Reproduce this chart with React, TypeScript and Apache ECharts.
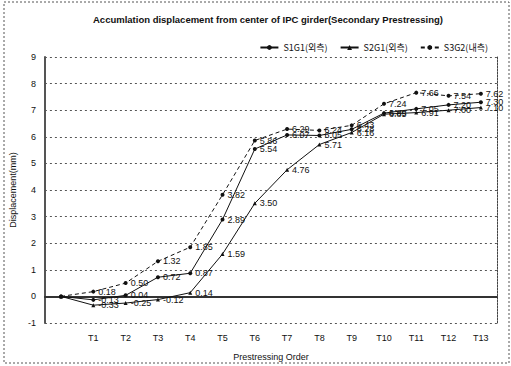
import React, { useEffect, useRef } from "react";
import * as echarts from "echarts";

const categories = ["", "T1", "T2", "T3", "T4", "T5", "T6", "T7", "T8", "T9", "T10", "T11", "T12", "T13"];
const seriesNames = ["S1G1(외측)", "S2G1(외측)", "S3G2(내측)"];
const s1g1 = [0, -0.13, 0.04, 0.72, 0.87, 2.89, 5.54, 6.07, 6.05, 6.28, 6.89, 7.05, 7.2, 7.3];
const s2g1 = [0, -0.33, -0.25, -0.12, 0.14, 1.59, 3.5, 4.76, 5.71, 6.16, 6.85, 6.91, 7.0, 7.1];
const s3g2 = [0, 0.18, 0.5, 1.32, 1.85, 3.82, 5.86, 6.29, 6.24, 6.43, 7.24, 7.66, 7.54, 7.62];
const yTicks = { min: -1, max: 9, interval: 1 };

const FONT = "Liberation Sans, Arial, sans-serif";

function mkSeries(name: string, values: number[], dashed: boolean, symbol: string) {
  return {
    name,
    type: "line",
    data: values.map((v, i) => ({
      value: v,
      label: { show: i > 0 },
    })),
    symbol,
    symbolSize: 4,
    itemStyle: { color: "#111" },
    lineStyle: { color: "#111", width: 1, type: dashed ? [4, 3] : "solid" },
    label: {
      show: true,
      position: "right",
      distance: 3,
      fontSize: 9,
      fontFamily: FONT,
      color: "#111",
      formatter: (p: any) => Number(p.value).toFixed(2),
    },
  };
}

export default function App() {
  const ref = useRef<HTMLDivElement>(null);
  useEffect(() => {
    const chart = echarts.init(ref.current!, null, { renderer: "svg" });
    chart.setOption({
      animation: false,
      backgroundColor: "#fff",
      title: {
        text: "Accumlation displacement from center of IPC girder(Secondary Prestressing)",
        left: 263,
        textAlign: "center",
        top: 9,
        textStyle: { fontSize: 9.5, fontWeight: "bold", fontFamily: FONT, color: "#111" },
      },
      legend: {
        data: seriesNames,
        top: 38,
        right: 18,
        itemWidth: 18,
        itemHeight: 6,
        itemGap: 12,
        textStyle: { fontSize: 9, fontFamily: "Noto Sans CJK KR, sans-serif", color: "#111" },
      },
      grid: { left: 37, top: 57, width: 460, height: 266, containLabel: false },
      xAxis: {
        type: "category",
        data: categories,
        boundaryGap: true,
        name: "Prestressing Order",
        nameLocation: "middle",
        nameGap: 29,
        nameTextStyle: { fontSize: 9, fontFamily: FONT, color: "#111" },
        axisLine: { lineStyle: { color: "#333", width: 2 } },
        axisTick: { show: false },
        axisLabel: { fontSize: 9, fontFamily: FONT, color: "#111", margin: 10, interval: 0 },
        splitLine: { show: false },
      },
      yAxis: [
        {
          type: "value",
          min: yTicks.min,
          max: yTicks.max,
          interval: yTicks.interval,
          name: "Displacement(mm)",
          nameLocation: "middle",
          nameGap: 20,
          nameRotate: 90,
          nameTextStyle: { fontSize: 9, fontFamily: FONT, color: "#111" },
          axisLine: { show: true, lineStyle: { color: "#555", width: 2 } },
          axisTick: { show: false },
          axisLabel: { fontSize: 9, fontFamily: FONT, color: "#111", margin: 9 },
          splitLine: { show: true, lineStyle: { color: "#555", type: [2, 3], width: 1 } },
        },
        {
          type: "value",
          position: "right",
          min: yTicks.min,
          max: yTicks.max,
          interval: yTicks.interval,
          axisLine: { show: true, lineStyle: { color: "#444", type: [2, 1], width: 1 } },
          axisTick: { show: false },
          axisLabel: { show: false },
          splitLine: { show: false },
        },
      ],
      graphic: [
        {
          type: "rect",
          shape: { x: 4, y: 2, width: 505, height: 361 },
          style: { fill: "none", stroke: "#555", lineWidth: 1, lineDash: [2, 2] },
          silent: true,
        },
      ],
      series: [
        mkSeries(seriesNames[0], s1g1, false, "circle"),
        mkSeries(seriesNames[1], s2g1, false, "triangle"),
        mkSeries(seriesNames[2], s3g2, true, "circle"),
      ],
    });
    return () => chart.dispose();
  }, []);
  return (
    <div
      ref={ref}
      style={{ position: "fixed", left: 0, top: 0, width: 511, height: 366 }}
    />
  );
}
